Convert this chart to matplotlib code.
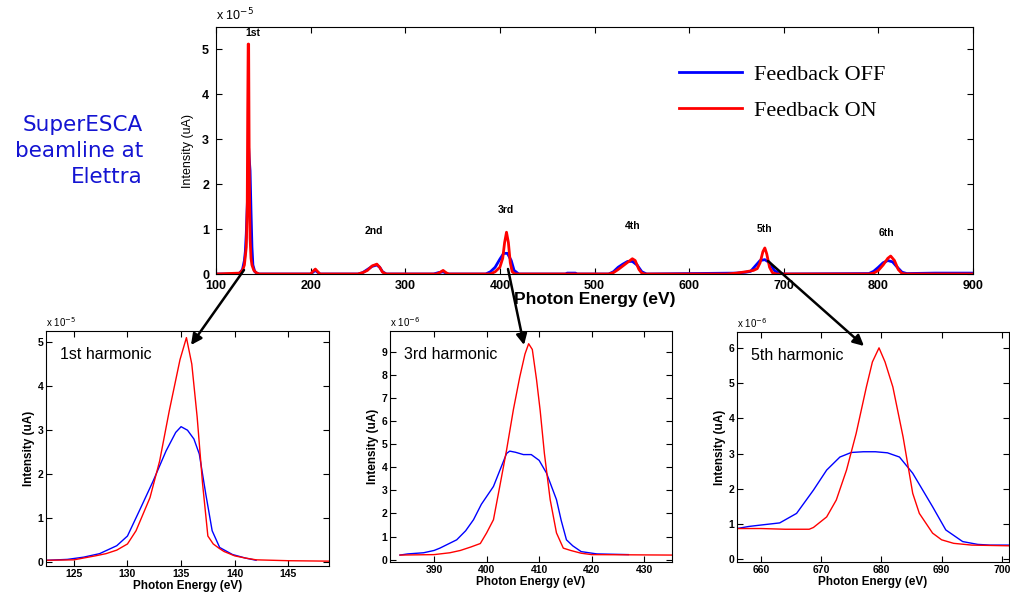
import numpy as np
import matplotlib
matplotlib.use("Agg")
import matplotlib.pyplot as plt
from matplotlib.patches import FancyArrowPatch

# Overview spectrum, intensity in units of 1e-5 uA
top_e_off = [100, 120, 125, 128, 130, 131, 132, 133, 134, 134.5, 135, 136, 137, 138, 139, 141, 145,
             200, 203, 205, 208, 210, 250, 255, 260, 265, 270, 273, 276, 280,
             330, 335, 340, 343, 345, 385, 390, 395, 400, 404, 408, 412, 415, 420,
             470, 471, 480, 481, 515, 520, 525, 530, 535, 540, 545, 550, 555,
             650, 660, 665, 670, 675, 680, 685, 690, 695, 700,
             790, 795, 800, 805, 810, 815, 820, 825, 830, 860, 900]
top_off = [0, 0, 0.02, 0.1, 0.3, 0.5, 0.9, 1.5, 2.05, 2.8, 2.6, 2.3, 1.4, 0.6, 0.2, 0.05, 0,
           0, 0.05, 0.08, 0.03, 0, 0, 0.03, 0.1, 0.17, 0.2, 0.15, 0.05, 0,
           0, 0.03, 0.05, 0.02, 0, 0, 0.05, 0.15, 0.33, 0.46, 0.46, 0.3, 0.08, 0,
           0, 0.02, 0.02, 0, 0, 0.05, 0.15, 0.22, 0.28, 0.28, 0.2, 0.05, 0,
           0.02, 0.04, 0.06, 0.18, 0.3, 0.32, 0.25, 0.08, 0.01, 0,
           0.01, 0.06, 0.15, 0.25, 0.3, 0.27, 0.15, 0.04, 0.01, 0.02, 0.02]
top_e_on = [100, 125, 128, 130, 132, 133, 133.5, 134, 134.5, 135, 135.5, 136, 137, 138, 140, 143, 146,
            200, 202, 205, 208, 210, 250, 255, 260, 265, 270, 273, 276, 280,
            333, 337, 340, 343, 346, 390, 395, 400, 403, 405, 407, 409, 411, 413, 416,
            515, 520, 525, 530, 535, 540, 543, 547, 550, 553,
            640, 650, 660, 668, 672, 675, 678, 680, 682, 685, 688, 692,
            790, 795, 800, 805, 810, 813, 817, 821, 825, 830, 900]
top_on = [0, 0.02, 0.08, 0.2, 0.6, 1.5, 3.6, 5.12, 5.12, 2.9, 1.6, 0.8, 0.35, 0.2, 0.08, 0.02, 0,
          0, 0.05, 0.11, 0.04, 0, 0, 0.03, 0.08, 0.18, 0.22, 0.15, 0.04, 0,
          0, 0.04, 0.08, 0.03, 0, 0, 0.05, 0.15, 0.35, 0.7, 0.93, 0.7, 0.25, 0.05, 0,
          0, 0.03, 0.1, 0.18, 0.26, 0.34, 0.3, 0.1, 0.02, 0,
          0, 0.02, 0.05, 0.08, 0.12, 0.25, 0.5, 0.58, 0.45, 0.15, 0.03, 0,
          0, 0.02, 0.08, 0.2, 0.35, 0.4, 0.3, 0.1, 0.01, 0, 0]

harm_names = ["1st", "2nd", "3rd", "4th", "5th", "6th"]
harm_pos = [(139, 5.36), (267, 0.96), (406, 1.42), (540, 1.07), (680, 1.0), (809, 0.91)]

# 1st harmonic zoom (1e-5)
h1_e_off = [122.5, 124.4, 125.9, 127.4, 129.0, 130.0, 131.2, 132.4, 133.6, 134.5, 135.0, 135.6, 136.2,
            136.7, 137.3, 137.9, 138.6, 139.8, 141.0, 142.0]
h1_off = [0.05, 0.07, 0.12, 0.2, 0.38, 0.6, 1.22, 1.85, 2.53, 2.95, 3.08, 3.0, 2.8,
          2.46, 1.56, 0.72, 0.34, 0.18, 0.1, 0.05]
h1_e_on = [122.5, 125, 127, 128, 129, 130, 130.8, 132.1, 133.0, 133.9, 134.9, 135.5, 136.0, 136.5,
           137.0, 137.5, 138, 138.5, 139, 140, 141, 142, 145, 148.8]
h1_on = [0.05, 0.06, 0.15, 0.2, 0.28, 0.42, 0.72, 1.47, 2.3, 3.44, 4.6, 5.1, 4.5, 3.3,
         1.8, 0.6, 0.42, 0.33, 0.25, 0.15, 0.1, 0.06, 0.04, 0.03]

# 3rd harmonic zoom (1e-6)
h3_e_off = [383.5, 385, 388, 390, 391.1, 394.3, 396, 397.5, 399, 401.3, 403.8, 404.4, 405.5, 407,
            408.5, 410, 411.4, 413.3, 414.2, 415.2, 416.4, 418, 421, 427]
h3_off = [0.2, 0.25, 0.3, 0.4, 0.5, 0.86, 1.25, 1.73, 2.4, 3.17, 4.6, 4.7, 4.65, 4.55,
          4.55, 4.3, 3.75, 2.6, 1.7, 0.86, 0.6, 0.35, 0.25, 0.22]
h3_e_on = [383.5, 390, 393, 395, 397, 398.8, 400.0, 401.3, 402.5, 403.8, 405.1, 406.3, 407.3, 408.0,
           408.7, 409.5, 410.2, 411, 412.1, 413.3, 414.6, 416, 418, 420, 435.3]
h3_on = [0.2, 0.22, 0.3, 0.4, 0.55, 0.7, 1.16, 1.73, 3.17, 4.75, 6.5, 7.9, 8.9, 9.35,
         9.1, 7.8, 6.45, 4.6, 2.6, 1.16, 0.5, 0.4, 0.28, 0.22, 0.2]

# 5th harmonic zoom (1e-6)
h5_e_off = [656, 658, 660, 663.1, 665.9, 668.7, 670.9, 673.1, 675, 677, 679, 681, 683,
            685.2, 688.5, 690.7, 693.5, 696, 698, 701.2]
h5_off = [0.87, 0.93, 0.97, 1.03, 1.3, 1.96, 2.53, 2.9, 3.03, 3.05, 3.05, 3.02, 2.9,
          2.44, 1.49, 0.83, 0.5, 0.42, 0.4, 0.4]
h5_e_on = [656, 660, 664, 668, 668.7, 670.9, 672.5, 674.2, 675.8, 677.5, 678.5, 679.6, 680.6,
           681.9, 683.6, 685.2, 686.3, 688.5, 690, 692, 695, 701.2]
h5_on = [0.87, 0.87, 0.85, 0.85, 0.9, 1.2, 1.68, 2.53, 3.57, 4.89, 5.6, 6.0, 5.6,
         4.89, 3.47, 1.87, 1.3, 0.74, 0.55, 0.45, 0.4, 0.38]

W, H = 1010, 596
BLUE = "#0000ff"
RED = "#ff0000"
TICKFONT = dict(family="Liberation Sans", weight="bold")


def frac(x, y):
    # pixel (from top-left) -> figure fraction
    return x / W, 1 - y / H


def box_axes(left, top, right, bottom):
    x0, y1 = frac(left, top)
    x1, y0 = frac(right, bottom)
    ax = fig.add_axes([x0, y0, x1 - x0, y1 - y0])
    ax.tick_params(direction="in", top=True, right=True, length=4, width=0.8)
    for s in ax.spines.values():
        s.set_linewidth(0.8)
    return ax


fig = plt.figure(figsize=(W / 100, H / 100), dpi=100)

# ---- overview panel
ax = box_axes(216, 27, 973, 274)
ax.plot(top_e_off, top_off, color=BLUE, lw=2, label="Feedback OFF")
ax.plot(top_e_on, top_on, color=RED, lw=2, label="Feedback ON")
ax.set_xlim(100, 900)
ax.set_ylim(0, 5.5)
ax.set_xticks(range(100, 901, 100))
ax.set_yticks(range(0, 6))
for lab in ax.get_xticklabels() + ax.get_yticklabels():
    lab.set_fontproperties(dict(TICKFONT, size=9))
ax.tick_params(axis="x", pad=4)
ax.tick_params(axis="y", pad=5)
ax.set_xlabel("Photon Energy (eV)", family="Liberation Sans", weight="bold", size=12.5, labelpad=0)
ax.set_ylabel("Intensity (uA)", family="Liberation Sans", size=9, labelpad=6)
ax.text(0, 1.015, r"x 10$^{-5}$", transform=ax.transAxes, family="Liberation Sans", size=9,
        va="bottom", ha="left")
for name, (hx, hy) in zip(harm_names, harm_pos):
    ax.text(hx, hy, name, family="Liberation Sans", weight="bold", size=7.5, ha="center", va="center")
ax.legend(loc="upper left", bbox_to_anchor=(0.588, 0.92), frameon=False,
          prop=dict(family="Liberation Serif", size=16), handlelength=2.85,
          handletextpad=0.55, labelspacing=0.69, borderpad=0.3)

fig.text(143 / W, 1 - 151 / H, "SuperESCA\nbeamline at\nElettra", color="#1414d2",
         family="DejaVu Sans", size=15.5, ha="right", va="center", multialignment="right",
         linespacing=1.4)

# ---- zoom panels
panels = [
    (box_axes(46, 331, 329, 566), h1_e_off, h1_off, h1_e_on, h1_on, (122.4, 148.8), (-0.08, 5.25),
     [125, 130, 135, 140, 145], range(0, 6), "1st harmonic", r"x 10$^{-5}$"),
    (box_axes(390, 331, 672, 562), h3_e_off, h3_off, h3_e_on, h3_on, (381.6, 435.3), (-0.1, 9.9),
     [390, 400, 410, 420, 430], range(0, 10), "3rd harmonic", r"x 10$^{-6}$"),
    (box_axes(737, 332, 1009, 562), h5_e_off, h5_off, h5_e_on, h5_on, (656.0, 701.2), (-0.08, 6.45),
     [660, 670, 680, 690, 700], range(0, 7), "5th harmonic", r"x 10$^{-6}$"),
]
for pax, eo, io, en, ion, xl, yl, xt, yt, title, expo in panels:
    pax.plot(eo, io, color=BLUE, lw=1)
    pax.plot(en, ion, color=RED, lw=1)
    pax.set_xlim(*xl)
    pax.set_ylim(*yl)
    pax.set_xticks(xt)
    pax.set_yticks(list(yt))
    for lab in pax.get_xticklabels() + pax.get_yticklabels():
        lab.set_fontproperties(dict(TICKFONT, size=7.5))
    pax.tick_params(pad=2)
    pax.set_xlabel("Photon Energy (eV)", family="Liberation Sans", weight="bold", size=8.5, labelpad=1)
    pax.set_ylabel("Intensity (uA)", family="Liberation Sans", weight="bold", size=8.5, labelpad=2)
    pax.text(0.05, 0.9, title, transform=pax.transAxes, family="Liberation Sans", size=11.5,
             weight="medium", ha="left", va="center")
    pax.text(0, 1.01, expo, transform=pax.transAxes, family="Liberation Sans", size=7,
             ha="left", va="bottom")

# ---- arrows from overview peaks to zoom panels
arrows = [((244, 270), (191, 345)), ((508, 269), (524, 345)), ((768, 261), (864, 346))]
for start, end in arrows:
    fig.add_artist(FancyArrowPatch(frac(*start), frac(*end), transform=fig.transFigure,
                                   arrowstyle="-|>", mutation_scale=16, lw=1.8, color="black",
                                   shrinkA=0, shrinkB=0))

fig.savefig("out.png", dpi=100)
